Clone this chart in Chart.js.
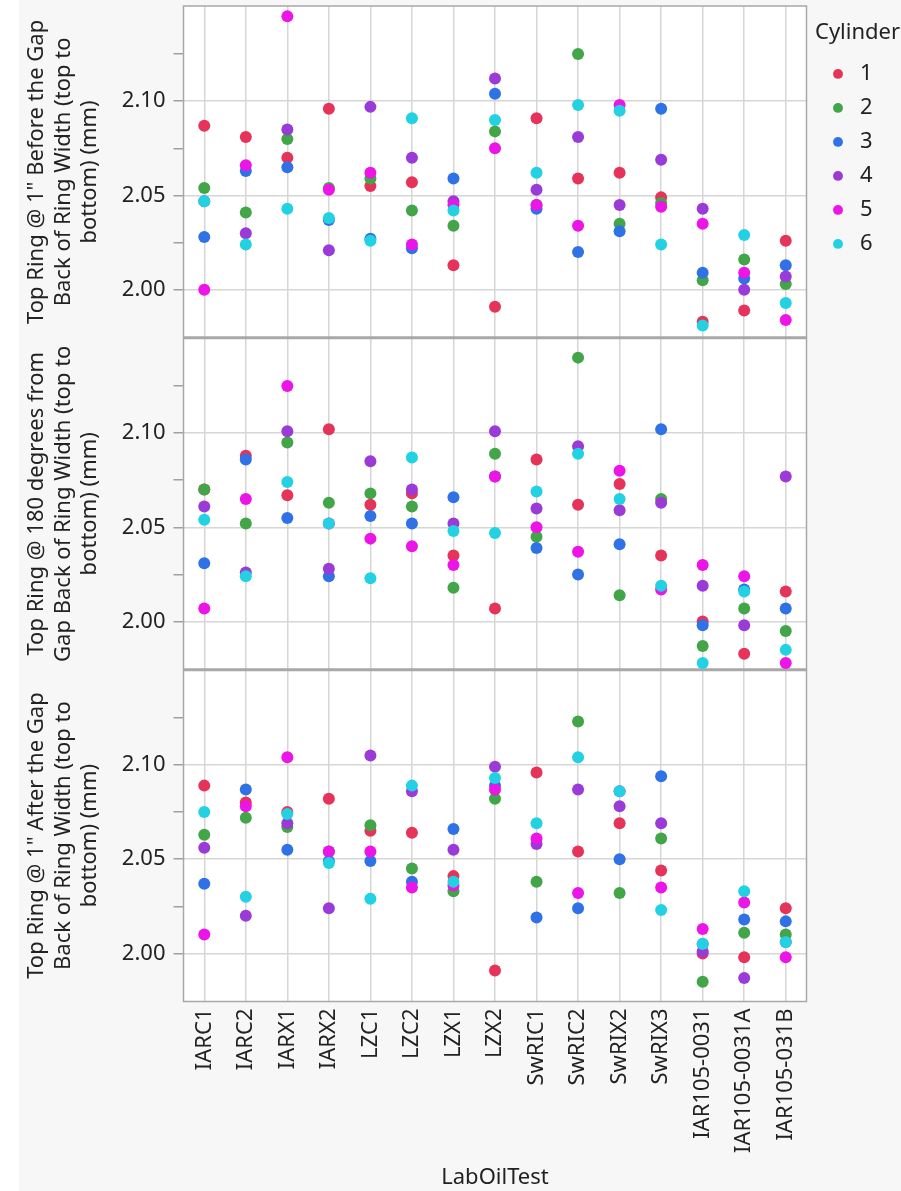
<!DOCTYPE html>
<html>
<head>
<meta charset="utf-8">
<script src="https://cdn.jsdelivr.net/npm/chart.js@4.4.1/dist/chart.umd.min.js"></script>
<style>
  html, body { margin: 0; padding: 0; }
  body {
    width: 901px; height: 1191px; overflow: hidden;
    background: linear-gradient(to right, #ffffff 0 19px, #f7f7f7 19px);
  }
  #wrap { position: relative; width: 901px; height: 1191px; }
</style>
</head>
<body>
<div id="wrap"><canvas id="ringChart"></canvas></div>
<script>
/* Top ring width measurements, one panel per measuring position,
   one row per cylinder (1..6), one value per LabOilTest */

const labOilTests = ['IARC1', 'IARC2', 'IARX1', 'IARX2', 'LZC1', 'LZC2', 'LZX1', 'LZX2',
    'SwRIC1', 'SwRIC2', 'SwRIX2', 'SwRIX3', 'IAR105-0031', 'IAR105-0031A', 'IAR105-031B'];

const cylinders = ['1', '2', '3', '4', '5', '6'];
const cylinderColors = ['#e6335a', '#42a548', '#2f72e6', '#9a3bd8', '#ec14e6', '#22d2e2'];

// Top Ring @ 1" Before the Gap
const beforeGap = [
    [2.087, 2.081, 2.070, 2.096, 2.055, 2.057, 2.013, 1.991, 2.091, 2.059, 2.062, 2.049, 1.983, 1.989, 2.026],
    [2.054, 2.041, 2.080, 2.054, 2.059, 2.042, 2.034, 2.084, 2.045, 2.125, 2.035, 2.046, 2.005, 2.016, 2.003],
    [2.028, 2.063, 2.065, 2.037, 2.027, 2.022, 2.059, 2.104, 2.043, 2.020, 2.031, 2.096, 2.009, 2.006, 2.013],
    [2.047, 2.030, 2.085, 2.021, 2.097, 2.070, 2.047, 2.112, 2.053, 2.081, 2.045, 2.069, 2.043, 2.000, 2.007],
    [2.000, 2.066, 2.145, 2.053, 2.062, 2.024, 2.045, 2.075, 2.045, 2.034, 2.098, 2.044, 2.035, 2.009, 1.984],
    [2.047, 2.024, 2.043, 2.038, 2.026, 2.091, 2.042, 2.090, 2.062, 2.098, 2.095, 2.024, 1.981, 2.029, 1.993]
];

// Top Ring @ 180 degrees from Gap
const oppositeGap = [
    [2.070, 2.088, 2.067, 2.102, 2.062, 2.068, 2.035, 2.007, 2.086, 2.062, 2.073, 2.035, 2.000, 1.983, 2.016],
    [2.070, 2.052, 2.095, 2.063, 2.068, 2.061, 2.018, 2.089, 2.045, 2.140, 2.014, 2.065, 1.987, 2.007, 1.995],
    [2.031, 2.086, 2.055, 2.024, 2.056, 2.052, 2.066, 2.077, 2.039, 2.025, 2.041, 2.102, 1.998, 2.017, 2.007],
    [2.061, 2.026, 2.101, 2.028, 2.085, 2.070, 2.052, 2.101, 2.060, 2.093, 2.059, 2.063, 2.019, 1.998, 2.077],
    [2.007, 2.065, 2.125, 2.052, 2.044, 2.040, 2.030, 2.077, 2.050, 2.037, 2.080, 2.017, 2.030, 2.024, 1.978],
    [2.054, 2.024, 2.074, 2.052, 2.023, 2.087, 2.048, 2.047, 2.069, 2.089, 2.065, 2.019, 1.978, 2.016, 1.985]
];

// Top Ring @ 1" After the Gap
const afterGap = [
    [2.089, 2.080, 2.075, 2.082, 2.065, 2.064, 2.041, 1.991, 2.096, 2.054, 2.069, 2.044, 2.000, 1.998, 2.024],
    [2.063, 2.072, 2.067, 2.054, 2.068, 2.045, 2.033, 2.082, 2.038, 2.123, 2.032, 2.061, 1.985, 2.011, 2.010],
    [2.037, 2.087, 2.055, 2.049, 2.049, 2.038, 2.066, 2.089, 2.019, 2.024, 2.050, 2.094, 2.005, 2.018, 2.017],
    [2.056, 2.020, 2.069, 2.024, 2.105, 2.086, 2.055, 2.099, 2.058, 2.087, 2.078, 2.069, 2.001, 1.987, 2.006],
    [2.010, 2.078, 2.104, 2.054, 2.054, 2.035, 2.036, 2.087, 2.061, 2.032, 2.086, 2.035, 2.013, 2.027, 1.998],
    [2.075, 2.030, 2.074, 2.048, 2.029, 2.089, 2.038, 2.093, 2.069, 2.104, 2.086, 2.023, 2.005, 2.033, 2.006]
];

// y ticks: labelled every 0.05, unlabelled minor ticks in between
const yTickValues = [2.00, 2.025, 2.05, 2.075, 2.10, 2.125];
const yTickLabels = ['2.00', '', '2.05', '', '2.10', ''];

const beforeTitle = ['Top Ring @ 1" Before the Gap', 'Back of Ring Width (top to', 'bottom) (mm)'];
const oppositeTitle = ['Top Ring @ 180 degrees from', 'Gap Back of Ring Width (top to', 'bottom) (mm)'];
const afterTitle = ['Top Ring @ 1" After the Gap', 'Back of Ring Width (top to', 'bottom) (mm)'];

const FONT = "'Noto Sans', 'Open Sans', sans-serif";
const FONT_SIZE = 22;
const TEXT = '#222222';
const PLOT_RIGHT = 806.5;   // right edge of the plot frames
const LEGEND_LEFT = 815;    // legend starts here and runs off the right edge

// panels top to bottom
const panels = [
    {axis: 'yBefore', values: beforeGap},
    {axis: 'yOpposite', values: oppositeGap},
    {axis: 'yAfter', values: afterGap}
];

const datasets = [];
panels.forEach(panel => {
    panel.values.forEach((vals, c) => {
        datasets.push({
            label: cylinders[c],
            data: vals,
            yAxisID: panel.axis,
            showLine: false,
            pointRadius: 6,
            pointHoverRadius: 6,
            pointBorderWidth: 0,
            borderWidth: 0,
            pointStyle: 'circle',
            backgroundColor: cylinderColors[c],
            borderColor: cylinderColors[c],
            order: 6 - c            // higher cylinder numbers drawn on top
        });
    });
});

function panelAxis(title) {
    return {
        type: 'linear',
        position: 'left',
        stack: 'panels',
        stackWeight: 1,
        min: 1.9745,
        max: 2.1505,
        afterBuildTicks: axis => { axis.ticks = yTickValues.map(v => ({value: v})); },
        afterFit: axis => {
            axis.width = 162.5;
            axis.paddingTop = 0;     // no extra room for labels at the ends
            axis.paddingBottom = 0;
        },
        ticks: {
            callback: (value, index) => yTickLabels[index],
            color: TEXT,
            padding: 8,
            font: {family: FONT, size: FONT_SIZE}
        },
        grid: {
            color: ctx => yTickLabels[ctx.index] ? '#d6d6d6' : 'rgba(0,0,0,0)',
            lineWidth: 1.5,
            tickColor: '#a0a0a0',
            tickLength: 10
        },
        border: {display: false},
        title: {
            display: true,
            text: title,
            color: TEXT,
            font: {family: FONT, size: FONT_SIZE, lineHeight: 1.2},
            padding: {top: 3, bottom: 0}
        }
    };
}

// white plot area plus the gray frames round each panel,
// and a fixed legend width so the title runs off the edge like the original
const panelFrames = {
    id: 'panelFrames',
    beforeLayout(chart) {
        const legend = chart.legend;
        if (legend && !legend.fixedWidth) {
            const fit = legend.fit;
            legend.fit = function() {
                fit.call(this);
                this.width = chart.width - LEGEND_LEFT;
            };
            legend.fixedWidth = true;
        }
    },
    beforeDraw(chart) {
        const {ctx, chartArea} = chart;
        ctx.save();
        ctx.fillStyle = '#ffffff';
        ctx.fillRect(chartArea.left, chartArea.top, chartArea.width, chartArea.height);
        ctx.restore();
    },
    beforeDatasetsDraw(chart) {
        const {ctx, chartArea} = chart;
        ctx.save();
        ctx.strokeStyle = '#a8a8a8';
        ctx.lineWidth = 1.5;
        ctx.strokeRect(chartArea.left, chartArea.top, chartArea.width, chartArea.height);
        ctx.lineWidth = 3;
        ['yBefore', 'yOpposite'].forEach(id => {
            const y = chart.scales[id].bottom;
            ctx.beginPath();
            ctx.moveTo(chartArea.left, y);
            ctx.lineTo(chartArea.right, y);
            ctx.stroke();
        });
        ctx.restore();
    }
};

new Chart(document.getElementById('ringChart'), {
    type: 'line',
    data: {
        labels: labOilTests,
        datasets: datasets
    },
    plugins: [panelFrames],
    options: {
        responsive: true,
        maintainAspectRatio: false,
        animation: false,
        events: [],
        layout: {
            padding: {left: 21, top: 5.5, right: 0, bottom: 0}
        },
        scales: {
            x: {
                type: 'category',
                offset: true,
                afterFit: axis => {
                    axis.height = 189.5;
                    axis.paddingLeft = 0;
                    axis.paddingRight = 0;
                },
                ticks: {
                    autoSkip: false,
                    minRotation: 90,
                    maxRotation: 90,
                    padding: 7,
                    color: TEXT,
                    font: {family: FONT, size: FONT_SIZE}
                },
                grid: {
                    color: '#d6d6d6',
                    lineWidth: 1.5,
                    drawTicks: false
                },
                border: {display: false},
                title: {
                    display: true,
                    text: 'LabOilTest',
                    color: TEXT,
                    font: {family: FONT, size: FONT_SIZE},
                    padding: {top: 4, bottom: 0}
                }
            },
            // stacked panels: last defined ends up on top
            yAfter: panelAxis(afterTitle),
            yOpposite: panelAxis(oppositeTitle),
            yBefore: panelAxis(beforeTitle),
            // empty axis that keeps a gap between plot and legend
            yPad: {
                type: 'linear',
                position: 'right',
                grid: {display: false, drawTicks: false},
                ticks: {display: false},
                border: {display: false},
                afterFit: axis => {
                    axis.width = LEGEND_LEFT - PLOT_RIGHT;
                    axis.paddingTop = 0;
                    axis.paddingBottom = 0;
                }
            }
        },
        plugins: {
            tooltip: {enabled: false},
            legend: {
                position: 'right',
                align: 'start',
                labels: {
                    usePointStyle: true,
                    pointStyle: 'circle',
                    boxWidth: 22,
                    boxHeight: 7,
                    padding: 12,
                    color: TEXT,
                    font: {family: FONT, size: FONT_SIZE},
                    filter: item => item.datasetIndex < 6,
                    sort: (a, b) => a.datasetIndex - b.datasetIndex
                },
                title: {
                    display: true,
                    text: 'Cylinder',
                    position: 'start',
                    color: TEXT,
                    font: {family: FONT, size: FONT_SIZE},
                    padding: {top: 16, bottom: 3}
                }
            }
        }
    }
});
</script>
</body>
</html>
